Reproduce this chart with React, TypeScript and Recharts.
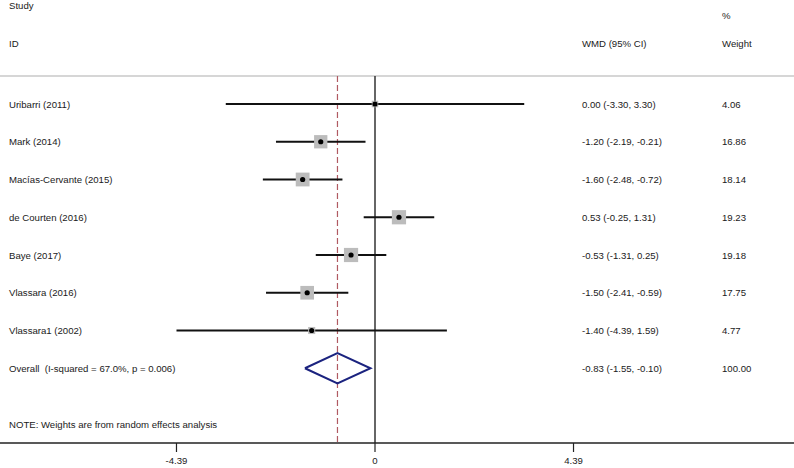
import {
  ScatterChart,
  Scatter,
  XAxis,
  YAxis,
  ReferenceLine,
} from "recharts";

const studies = [
  "Uribarri (2011)",
  "Mark (2014)",
  "Macías-Cervante (2015)",
  "de Courten (2016)",
  "Baye (2017)",
  "Vlassara (2016)",
  "Vlassara1 (2002)",
];
const wmd = [0.0, -1.2, -1.6, 0.53, -0.53, -1.5, -1.4];
const lower = [-3.3, -2.19, -2.48, -0.25, -1.31, -2.41, -4.39];
const upper = [3.3, -0.21, -0.72, 1.31, 0.25, -0.59, 1.59];
const weights = [4.06, 16.86, 18.14, 19.23, 19.18, 17.75, 4.77];

const overallLabel = "Overall  (I-squared = 67.0%, p = 0.006)";
const overallEst = -0.83;
const overallLower = -1.55;
const overallUpper = -0.1;
const overallWeight = 100.0;

const noteText = "NOTE: Weights are from random effects analysis";
const xTicks = [-4.39, 0, 4.39];

// layout
const W = 794;
const H = 468;
const X_DOMAIN: [number, number] = [-8.293, 9.266];
const Y_DOMAIN: [number, number] = [-2.755, 8.98];
const TOP_LINE = -0.742;
const LEFT_X = 9;
const WMD_X = 582;
const WEIGHT_X = 722;
const FONT = "'Liberation Sans', Arial, sans-serif";
const FS = 9.6;

const f2 = (v: number) => v.toFixed(2);
const ciText = (e: number, l: number, u: number) => `${f2(e)} (${f2(l)}, ${f2(u)})`;

const overallRow = studies.length;

const rows: { v: number; cols: [number, string][] }[] = [
  { v: -2.6, cols: [[LEFT_X, "Study"]] },
  { v: -2.35, cols: [[WEIGHT_X, "%"]] },
  {
    v: -1.6,
    cols: [
      [LEFT_X, "ID"],
      [WMD_X, "WMD (95% CI)"],
      [WEIGHT_X, "Weight"],
    ],
  },
  ...studies.map((s, i) => ({
    v: i,
    cols: [
      [LEFT_X, s],
      [WMD_X, ciText(wmd[i], lower[i], upper[i])],
      [WEIGHT_X, f2(weights[i])],
    ] as [number, string][],
  })),
  {
    v: overallRow,
    cols: [
      [LEFT_X, overallLabel],
      [WMD_X, ciText(overallEst, overallLower, overallUpper)],
      [WEIGHT_X, f2(overallWeight)],
    ],
  },
  { v: overallRow + 1.5, cols: [[LEFT_X, noteText]] },
];

const textPoints = rows.map((r) => ({ x: 0, y: r.v, row: r }));
const points = studies.map((s, i) => ({ x: wmd[i], y: i, w: weights[i], name: s }));

const diamond = [
  { x: overallLower, y: overallRow },
  { x: overallEst, y: overallRow - 0.4 },
  { x: overallUpper, y: overallRow },
  { x: overallEst, y: overallRow + 0.4 },
  { x: overallLower, y: overallRow },
];

const RowText = (p: any) => {
  const row = p.payload.row;
  return (
    <g>
      {row.cols.map(([x, t]: [number, string], k: number) => (
        <text
          key={k}
          x={x}
          y={p.cy}
          dominantBaseline="central"
          fontSize={FS}
          fontFamily={FONT}
          fill="#1a1a1a"
          style={{ whiteSpace: "pre" }}
        >
          {t}
        </text>
      ))}
    </g>
  );
};

const StudyMark = (p: any) => {
  const s = 3.24 * Math.sqrt(p.payload.w);
  return (
    <g>
      <rect x={p.cx - s / 2} y={p.cy - s / 2} width={s} height={s} fill="#bcbcbc" />
      <circle cx={p.cx} cy={p.cy} r={2.6} fill="#000" />
    </g>
  );
};

export default function App() {
  return (
    <div style={{ position: "absolute", left: 0, top: 0, background: "#fff" }}>
      <ScatterChart width={W} height={H} margin={{ top: 0, right: 0, bottom: 0, left: 0 }}>
        <XAxis
          type="number"
          dataKey="x"
          domain={X_DOMAIN}
          allowDataOverflow
          ticks={xTicks}
          interval={0}
          height={25}
          tickSize={9}
          tickMargin={5}
          axisLine={{ stroke: "#222", strokeWidth: 1.4 }}
          tickLine={{ stroke: "#222", strokeWidth: 1.2 }}
          tick={{ fontSize: FS, fontFamily: FONT, fill: "#1a1a1a" }}
        />
        <YAxis
          type="number"
          dataKey="y"
          domain={Y_DOMAIN}
          allowDataOverflow
          reversed
          hide
        />
        <ReferenceLine y={TOP_LINE} stroke="#c8c8c8" strokeWidth={1.5} />
        <ReferenceLine
          segment={[
            { x: 0, y: TOP_LINE },
            { x: 0, y: Y_DOMAIN[1] },
          ]}
          stroke="#333"
          strokeWidth={1.5}
        />
        <ReferenceLine
          segment={[
            { x: overallEst, y: TOP_LINE },
            { x: overallEst, y: Y_DOMAIN[1] },
          ]}
          stroke="#b05a62"
          strokeWidth={1.2}
          strokeDasharray="6 3"
        />
        {studies.map((s, i) => (
          <ReferenceLine
            key={s}
            segment={[
              { x: lower[i], y: i },
              { x: upper[i], y: i },
            ]}
            stroke="#111"
            strokeWidth={2}
          />
        ))}
        <Scatter data={points} shape={<StudyMark />} isAnimationActive={false} />
        <Scatter
          data={diamond}
          line={{ stroke: "#1b237f", strokeWidth: 2 }}
          shape={() => <g />}
          isAnimationActive={false}
        />
        <Scatter data={textPoints} shape={<RowText />} isAnimationActive={false} />
      </ScatterChart>
    </div>
  );
}
